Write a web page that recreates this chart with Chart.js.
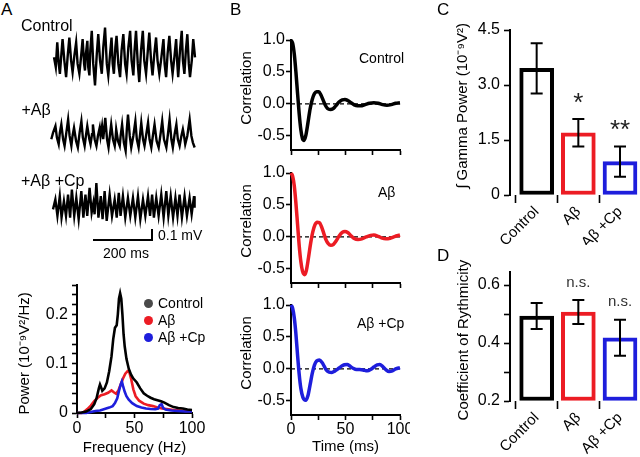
<!DOCTYPE html>
<html>
<head>
<meta charset="utf-8">
<script src="https://cdn.jsdelivr.net/npm/chart.js@4.4.1/dist/chart.umd.min.js"></script>
<style>
html, body { margin: 0; padding: 0; background: #fff; }
#root { position: relative; width: 640px; height: 457px; overflow: hidden; background: #fff;
  font-family: 'Liberation Sans', Arial, Helvetica, sans-serif; color: #000; }
#root canvas { position: absolute; }
.t { position: absolute; white-space: nowrap; }
.dot { position: absolute; border-radius: 50%; }
</style>
</head>
<body>
<div id="root"></div>
<script>
// ================= DATA =================
const conditions = ['Control', 'Aβ', 'Aβ +Cp'];
const traceTitles = ['Control', '+Aβ', '+Aβ +Cp'];
const seriesColors = ['#000000', '#ec1c24', '#1e1edc'];
const legendColors = ['#4a4a4a', '#ec1c24', '#1e1edc'];
const panelLetters = ['A', 'B', 'C', 'D'];

// A (top): example field-potential traces; time in ms, voltage in µV
const ctrlTraceT = [0,6,11,16,20,25,29,35,41,46,52,58,63,69,75,80,86,92,97,102,105,108,113,116,120,123,128,133,139,145,150,156,162,167,173,179,184,190,195,199,203,208,212,218,224,229,235,241,246,252,258,263,269,273,278,284,289,295,301,306,312,318,323,329,334,340,346,351,357,364,371,375,380,385,391,397,402,408,414,418,421,427,433,437,442,447,452,457,461,467,472,478];
const ctrlTraceV = [0,-90,135,-60,-150,30,165,-30,-180,0,180,-30,-135,15,135,-60,-150,15,165,-60,-120,30,150,-90,-165,60,240,-60,-255,30,210,-30,-150,90,270,-60,-165,30,180,-60,-150,90,195,-60,-180,60,210,-60,-150,90,240,-30,-165,60,240,-60,-225,60,240,-30,-150,60,225,-30,-165,30,180,-30,-150,0,165,-60,-180,30,195,-30,-150,0,165,-60,-180,60,240,-30,-150,60,210,-60,-180,-30,165,0];
const abTraceT = [0,6,14,19,25,29,34,40,45,51,57,62,68,72,77,84,90,96,102,107,113,118,122,129,133,138,141,147,153,158,164,167,172,176,183,189,194,199,203,209,215,218,220,226,232,235,240,246,252,256,260,266,271,278,285,290,296,301,305,311,316,322,328,333,339,345,350,357,364,371,376,382,390,396,401,407,412,418,424,429,435,441,446,450,454,461,469,475,480,486];
const abTraceV = [-45,15,75,-30,-90,15,90,-45,-105,15,135,-15,-105,-15,60,-60,-120,15,120,-30,-105,0,75,-45,-90,0,90,-45,-105,-15,60,-15,75,-45,150,-45,-120,0,90,-45,-105,-30,45,-60,-105,-15,90,-75,-150,45,180,-15,-120,-15,120,-45,-120,0,105,-45,-105,0,105,-45,-120,0,90,-60,-120,15,120,-45,-120,15,135,-45,-120,0,90,-45,-105,-15,45,-15,-90,-15,135,-15,-75,-120];
const cpTraceT = [0,8,15,23,29,37,44,51,58,64,72,79,87,96,103,110,116,124,131,137,141,147,154,162,168,175,182,192,200,209,216,223,229,237,245,254,262,271,279,288,296,305,313,322,329,336,342,350,358,367,375,384,391,399,407,415,422,429,437,446,454,463,470,478,480];
const cpTraceV = [-15,75,-75,105,-90,60,-75,120,-90,165,-75,90,-105,150,-90,120,-75,180,-45,45,-60,225,-90,105,-105,150,-120,120,-75,75,-90,135,-75,105,-90,90,-75,90,-90,105,-105,75,-75,105,-75,120,-90,90,-75,120,-90,150,-75,105,-90,90,-75,120,-90,105,-75,90,-60,105,0];
const scaleBarMs = 200;       // horizontal scale bar (ms)
const scaleBarUV = 100;       // vertical scale bar (µV) = 0.1 mV
const scaleBarLabels = ['200 ms', '0.1 mV'];

// A (bottom): power spectra, frequency (Hz) vs power (1e-9 V²/Hz)
const specCtrlF = [0,4,8,12,15,17,19,20,21,22,24,26,28,30,31.5,33,34.5,35.5,36.5,37.5,38.5,39.5,40.5,41.5,43,45,47,49,52,55,58,61,64,67,70,73,76,80,84,88,92,96,100];
const specCtrlP = [0,0.001,0.003,0.008,0.018,0.03,0.05,0.058,0.052,0.045,0.05,0.062,0.085,0.115,0.15,0.173,0.178,0.2,0.232,0.243,0.232,0.2,0.16,0.135,0.11,0.09,0.078,0.07,0.062,0.05,0.04,0.035,0.031,0.028,0.026,0.024,0.021,0.016,0.012,0.01,0.009,0.007,0.006];
const specAbF = [0,4,6,9,12,15,18,21,24,27,30,32,34,36,38,40,42,44,45.5,47,49,51,54,58,62,66,70,74,78,84,90,95,100];
const specAbP = [0,0,0.002,0.008,0.015,0.024,0.031,0.036,0.038,0.041,0.046,0.042,0.039,0.046,0.058,0.07,0.08,0.085,0.083,0.07,0.048,0.034,0.025,0.019,0.016,0.014,0.011,0.009,0.008,0.006,0.005,0.004,0.004];
const specCpF = [0,8,12,16,20,24,28,31,33,35,36.5,38,39,40,41.5,43,45,48,52,56,60,64,68,70.5,72,73.5,75,77,82,88,94,100];
const specCpP = [0,0,0.002,0.004,0.005,0.008,0.011,0.014,0.02,0.03,0.045,0.058,0.064,0.055,0.043,0.034,0.027,0.02,0.014,0.011,0.009,0.008,0.0075,0.009,0.016,0.018,0.01,0.007,0.005,0.004,0.003,0.003];
const specFreqTicks = [0,25,50,75,100];
const specFreqLabels = ['0','','50','','100'];
const specPowTicks = [0,0.02,0.04,0.06,0.08,0.1,0.12,0.14,0.16,0.18,0.2,0.22,0.24,0.26];
const specPowLabels = ['0','','','','','0.1','','','','','0.2','','',''];

// B: autocorrelation, lag (ms) vs correlation
const acCtrlLag = [0,1.5,3,4.5,6,7.5,9,10.5,12,13.5,15.5,17.5,19.5,21.5,23.5,25.5,27.5,29.5,31.5,33.5,36,38.5,41,44,47,49.5,52,55,58,61,64,68,72,76,80,84,88,92,96,100];
const acCtrlR = [1,0.95,0.78,0.5,0.17,-0.15,-0.4,-0.54,-0.57,-0.5,-0.3,-0.08,0.07,0.16,0.19,0.19,0.14,0.06,-0.02,-0.07,-0.085,-0.075,-0.03,0.03,0.065,0.07,0.055,0.02,-0.015,-0.03,-0.03,-0.01,0.01,0.02,0.01,-0.01,-0.02,-0.01,0.01,0.02];
const acAbLag = [0,1.5,3,4.5,6,7.5,9,10.5,12.5,14,16,18,20,22,24,26,28,30,32,34,36.5,39,41.5,44,47,49.5,52,55,58,61.5,65,69,73,76,80,83,87,91,95,100];
const acAbR = [1,0.95,0.8,0.53,0.2,-0.13,-0.38,-0.53,-0.59,-0.53,-0.33,-0.1,0.08,0.19,0.23,0.225,0.16,0.06,-0.04,-0.1,-0.13,-0.115,-0.06,0.01,0.07,0.085,0.07,0.02,-0.025,-0.04,-0.03,0,0.025,0.03,0.01,-0.015,-0.03,-0.02,0.005,0.03];
const acCpLag = [0,1.5,3,4.5,6,7.5,9,11,13.5,15.5,17.5,19.5,21.5,23.5,26,28.5,30.5,32.5,35,37.5,40,43,46,49,51.5,54,57,60,63,66,70,73,76,79,81.5,84,87,90,93,96,100];
const acCpR = [1,0.95,0.8,0.55,0.22,-0.08,-0.3,-0.45,-0.49,-0.42,-0.25,-0.07,0.06,0.125,0.14,0.1,0.04,-0.02,-0.05,-0.055,-0.035,0,0.04,0.065,0.07,0.045,0.01,-0.01,-0.01,-0.015,-0.03,-0.01,0.03,0.065,0.07,0.04,-0.01,-0.04,-0.03,0,0.02];
const acLagTicks = [0,25,50,75,100];
const acLagLabels = ['0','','50','','100'];
const corrTicks = [-0.5,0,0.5,1];
const corrLabels = ['-0.5','0.0','0.5','1.0'];

// C: integrated gamma power (1e-9 V²), mean ± SEM
const gammaMean = [3.455, 1.695, 0.91];
const gammaSem = [0.685, 0.375, 0.41];
const gammaSig = ['', '*', '**'];
const gammaTicks = [0, 1.5, 3, 4.5];
const gammaLabels = ['0', '1.5', '3.0', '4.5'];

// D: coefficient of rhythmicity, mean ± SEM
const rhythMean = [0.493, 0.507, 0.418];
const rhythSem = [0.045, 0.041, 0.062];
const rhythSig = ['', 'n.s.', 'n.s.'];
const rhythTicks = [0.2, 0.3, 0.4, 0.5, 0.6];
const rhythLabels = ['0.2', '', '0.4', '', '0.6'];

// ================= SETUP =================
const FONT = "'Liberation Sans', Arial, Helvetica, sans-serif";
Chart.defaults.font.family = FONT;
Chart.defaults.color = '#000';
Chart.defaults.animation = false;
Chart.defaults.responsive = false;
Chart.defaults.devicePixelRatio = 1;
Chart.defaults.events = [];
Chart.defaults.plugins.legend.display = false;
Chart.defaults.plugins.tooltip.enabled = false;

const root = document.getElementById('root');
const pairs = (xs, ys) => xs.map((x, i) => ({x: x, y: ys[i]}));
const catPos = conditions.map((c, i) => i + 1);

function mkCanvas(left, top, w, h) {
  const c = document.createElement('canvas');
  c.width = w; c.height = h;
  c.style.left = left + 'px'; c.style.top = top + 'px';
  c.style.width = w + 'px'; c.style.height = h + 'px';
  root.appendChild(c);
  return c;
}

function axis(o) {
  return {
    type: 'linear', position: o.pos, min: o.min, max: o.max, offset: false,
    border: {display: o.border !== false, color: '#000', width: 2},
    grid: {display: true, drawOnChartArea: false, drawTicks: true, tickLength: o.tl,
           tickWidth: 1.6, tickColor: '#000', color: '#000'},
    ticks: {display: o.showLabels !== false, color: '#000', font: {size: o.fs || 16},
            padding: o.pad, autoSkip: false, maxRotation: o.rot || 0, minRotation: o.rot || 0,
            callback: (v, i) => o.labels[i]},
    title: o.title ? {display: true, text: o.title, color: '#000', font: {size: 15},
                      padding: {top: 0, bottom: o.tpad || 0}} : {display: false},
    afterBuildTicks: s => { s.ticks = o.ticks.map(v => ({value: v})); },
    afterFit: s => {
      if (s.isHorizontal()) s.height = o.size; else s.width = o.size;
      s.paddingLeft = 0; s.paddingRight = 0; s.paddingTop = 0; s.paddingBottom = 0;
    }
  };
}

// vertical axis title centred on a chosen value of the y scale
const vTitle = {
  id: 'vTitle',
  afterDraw(chart, args, o) {
    if (!o || !o.text) return;
    const ys = chart.scales.y, ctx = chart.ctx;
    const yc = ys.getPixelForValue(o.center);
    ctx.save();
    ctx.translate(o.x, yc); ctx.rotate(-Math.PI / 2);
    ctx.font = '15px ' + FONT; ctx.fillStyle = '#000';
    ctx.textAlign = 'center'; ctx.textBaseline = 'middle';
    ctx.fillText(o.text, 0, 0);
    ctx.restore();
  }
};

// error bars + significance labels
const barExtras = {
  id: 'barExtras',
  afterDatasetsDraw(chart, args, o) {
    if (!o || !o.means) return;
    const ctx = chart.ctx, xs = chart.scales.x, ys = chart.scales.y;
    ctx.save();
    ctx.strokeStyle = '#000'; ctx.lineWidth = 2; ctx.lineCap = 'butt';
    o.means.forEach((m, i) => {
      const x = xs.getPixelForValue(o.pos[i]);
      const yt = ys.getPixelForValue(m + o.sems[i]);
      const yb = ys.getPixelForValue(m - o.sems[i]);
      ctx.beginPath();
      ctx.moveTo(x, yt); ctx.lineTo(x, yb);
      ctx.moveTo(x - o.cap, yt); ctx.lineTo(x + o.cap, yt);
      ctx.moveTo(x - o.cap, yb); ctx.lineTo(x + o.cap, yb);
      ctx.stroke();
      if (o.sig[i]) {
        ctx.fillStyle = o.sigColor; ctx.font = o.sigFont;
        ctx.textAlign = 'center'; ctx.textBaseline = 'alphabetic';
        ctx.fillText(o.sig[i], x, yt - o.sigGap);
      }
    });
    ctx.restore();
  }
};

// scale bar for traces, built from the trace chart's own scales
const scaleBar = {
  id: 'scaleBar',
  afterDatasetsDraw(chart, args, o) {
    if (!o || o.lenX === undefined) return;
    const ctx = chart.ctx, xs = chart.scales.x, ys = chart.scales.y;
    const x1 = xs.getPixelForValue(o.x), x0 = xs.getPixelForValue(o.x - o.lenX);
    const y0 = ys.getPixelForValue(o.y), y1 = ys.getPixelForValue(o.y + o.lenY);
    ctx.save();
    ctx.strokeStyle = '#000'; ctx.lineWidth = 2;
    ctx.beginPath();
    ctx.moveTo(x0, y0); ctx.lineTo(x1 + 1, y0);
    ctx.moveTo(x1, y0); ctx.lineTo(x1, y1);
    ctx.stroke();
    ctx.restore();
  }
};

function addText(s, x, base, size, opts) {
  opts = opts || {};
  const d = document.createElement('div');
  d.className = 't'; d.textContent = s;
  d.style.fontSize = size + 'px'; d.style.lineHeight = size + 'px';
  d.style.top = (base - 0.8465 * size) + 'px';
  d.style.left = x + 'px';
  if (opts.center) d.style.transform = 'translateX(-50%)';
  if (opts.color) d.style.color = opts.color;
  root.appendChild(d);
}

// ================= PANEL A: traces =================
function traceChart(left, top, w, h, xr, yr, T, V, extra, pluginOpts) {
  return new Chart(mkCanvas(left, top, w, h), {
    type: 'line',
    data: {datasets: [{data: pairs(T, V), borderColor: '#000', borderWidth: 2.4, pointRadius: 0,
                       tension: 0, clip: false, borderJoinStyle: 'miter'}]},
    options: {
      layout: {padding: 0},
      scales: {
        x: {type: 'linear', display: false, min: xr[0], max: xr[1]},
        y: {type: 'linear', display: false, min: yr[0], max: yr[1]}
      },
      plugins: pluginOpts || {}
    },
    plugins: extra || []
  });
}
traceChart(50, 20, 150, 75, [-13.6, 494.9], [-342.7, 339], ctrlTraceT, ctrlTraceV);
traceChart(48, 100, 152, 65, [-11.2, 504.1], [-279, 311.8], abTraceT, abTraceV);
traceChart(48, 170, 152, 90, [-16.95, 498.3], [-475.4, 342.7], cpTraceT, cpTraceV,
  [scaleBar], {scaleBar: {x: 335.6, y: -293.6, lenX: scaleBarMs, lenY: scaleBarUV}});

// ================= PANEL A: spectrum =================
new Chart(mkCanvas(0, 270, 205, 187), {
  type: 'line',
  data: {datasets: [
    {label: conditions[0], data: pairs(specCtrlF, specCtrlP), borderColor: seriesColors[0]},
    {label: conditions[2], data: pairs(specCpF, specCpP), borderColor: seriesColors[2]},
    {label: conditions[1], data: pairs(specAbF, specAbP), borderColor: seriesColors[1]}
  ]},
  options: {
    layout: {padding: {left: 0, top: 15, right: 13, bottom: 0}},
    elements: {point: {radius: 0}, line: {borderWidth: 2.6, tension: 0}},
    datasets: {line: {clip: false}},
    scales: {
      x: axis({pos: 'bottom', min: 0, max: 100, ticks: specFreqTicks, labels: specFreqLabels,
               tl: 5, pad: 1, size: 44, title: 'Frequency (Hz)', tpad: 0}),
      y: axis({pos: 'left', min: 0, max: 0.26, ticks: specPowTicks, labels: specPowLabels,
               tl: 5, pad: 4, size: 77})
    },
    plugins: {vTitle: {text: 'Power (10⁻⁹V²/Hz)', x: 25, center: 0.121}}
  },
  plugins: [vTitle]
});

// ================= PANEL B: autocorrelations =================
function acChart(top, height, xSize, lags, vals, color, showX) {
  return new Chart(mkCanvas(225, top, 185, height), {
    type: 'line',
    data: {datasets: [
      {data: pairs(lags, vals), borderColor: color, borderWidth: 3.5, pointRadius: 0,
       cubicInterpolationMode: 'monotone', clip: false},
      {data: [{x: acLagTicks[0], y: 0}, {x: acLagTicks[acLagTicks.length - 1], y: 0}],
       borderColor: '#000', borderWidth: 1.3, borderDash: [4, 3], pointRadius: 0, clip: false}
    ]},
    options: {
      layout: {padding: {left: 0, top: 15, right: 10, bottom: 0}},
      scales: {
        x: axis({pos: 'bottom', min: 0, max: 100, ticks: acLagTicks, labels: acLagLabels,
                 tl: 5, pad: 0, size: xSize, showLabels: showX,
                 title: showX ? 'Time (ms)' : null, tpad: 1}),
        y: axis({pos: 'left', min: -0.72, max: 1, ticks: corrTicks, labels: corrLabels,
                 tl: 5, pad: 1, size: 66})
      },
      plugins: {vTitle: {text: 'Correlation', x: 21.7, center: 0.25}}
    },
    plugins: [vTitle]
  });
}
acChart(25, 135, 10, acCtrlLag, acCtrlR, seriesColors[0], false);
acChart(158, 135, 10, acAbLag, acAbR, seriesColors[1], false);
acChart(290, 167, 42, acCpLag, acCpR, seriesColors[2], true);

// ================= PANELS C & D: bar charts =================
function barChart(top, height, padTop, xSize, means, sems, sig, yMin, yMax, yT, yL,
                  title, titleCenter, titleX, sigFont, sigGap, sigColor) {
  return new Chart(mkCanvas(440, top, 200, height), {
    type: 'bar',
    data: {datasets: [{
      data: pairs(catPos, means),
      base: yMin,
      backgroundColor: '#ffffff',
      borderColor: seriesColors,
      borderWidth: 4,
      borderSkipped: false,
      barThickness: 34,
      clip: false
    }]},
    options: {
      layout: {padding: {left: 0, top: padTop, right: 0, bottom: 0}},
      scales: {
        x: axis({pos: 'bottom', min: 0.36, max: 3.48, ticks: catPos, labels: conditions,
                 tl: 8, pad: 0, size: xSize, fs: 15, rot: 45, border: false}),
        y: axis({pos: 'left', min: yMin, max: yMax, ticks: yT, labels: yL, tl: 6, pad: 4, size: 70})
      },
      plugins: {
        vTitle: {text: title, x: titleX, center: titleCenter},
        barExtras: {means: means, sems: sems, sig: sig, pos: catPos, cap: 6,
                    sigFont: sigFont, sigGap: sigGap, sigColor: sigColor}
      }
    },
    plugins: [barExtras, vTitle]
  });
}
barChart(10, 235, 20, 50, gammaMean, gammaSem, gammaSig, 0, 4.5, gammaTicks, gammaLabels,
         '∫ Gamma Power (10⁻⁹V²)', 2.43, 23, '26px ' + FONT, 8.5, '#222');
barChart(245, 212, 27, 56, rhythMean, rhythSem, rhythSig, 0.2, 0.645, rhythTicks, rhythLabels,
         'Coefficient of Rythmicity', 0.41, 24, '15px ' + FONT, 13.5, '#333');

// ================= TEXT ANNOTATIONS =================
addText(panelLetters[0], 1, 15, 17);
addText(panelLetters[1], 230, 15, 17);
addText(panelLetters[2], 437, 15, 17);
addText(panelLetters[3], 437, 261.5, 17);

addText(traceTitles[0], 21, 32, 16);
addText(traceTitles[1], 21.5, 116, 16);
addText(traceTitles[2], 21, 186.5, 16);
addText(scaleBarLabels[0], 126, 258, 14, {center: true});
addText(scaleBarLabels[1], 158, 240, 14);

addText(conditions[0], 359, 63, 14);
addText(conditions[1], 378, 197, 14);
addText(conditions[2], 357, 328, 14);

conditions.forEach((c, i) => {
  const dot = document.createElement('div');
  dot.className = 'dot';
  dot.style.width = '9px'; dot.style.height = '9px';
  dot.style.left = (148.3 - 4.5) + 'px';
  dot.style.top = (303 + 17 * i - 4.5) + 'px';
  dot.style.background = legendColors[i];
  root.appendChild(dot);
  addText(c, 158, 308 + 17 * i, 14);
});
</script>
</body>
</html>
